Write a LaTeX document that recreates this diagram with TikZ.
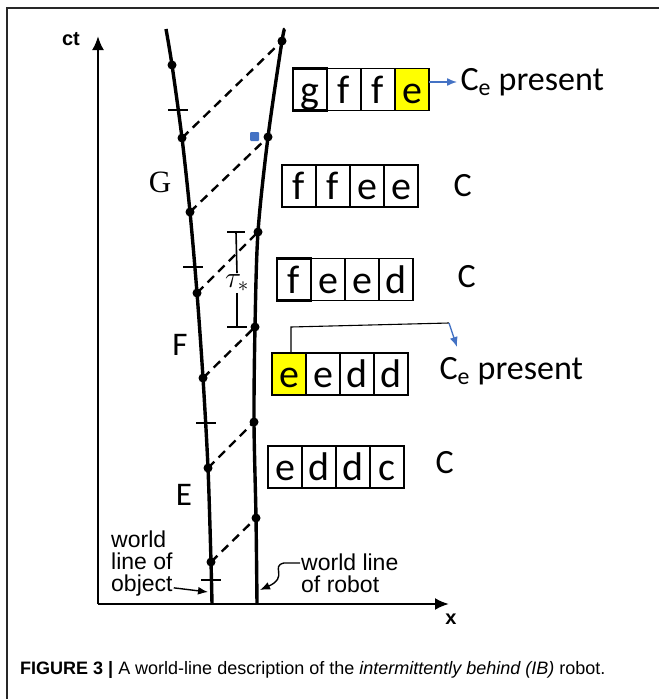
\RequirePackage{fix-cm}
\documentclass[tikz,border=0pt]{standalone}
\usepackage{fontspec}
\setmainfont{Carlito}
\newfontfamily\helv{Liberation Sans}
\newfontfamily\tms{Liberation Serif}
\usetikzlibrary{positioning,arrows.meta}
\definecolor{ibyellow}{RGB}{255,255,0}
\definecolor{ibblue}{RGB}{68,114,196}
\definecolor{ibframe}{RGB}{40,40,40}
\tikzset{
  wline/.style={line width=3.4pt},
  evt/.style={circle,fill=black,inner sep=0pt,minimum size=9pt},
  sig/.style={line width=2.4pt,dash pattern=on 9pt off 6pt},
  cell/.style={draw,line width=1.4pt,outer sep=0pt,inner sep=0pt,minimum width=34pt,minimum height=42pt,text height=27pt,text depth=0pt,font=\fontsize{40}{40}\selectfont},
  firstcell/.style={cell,line width=2.8pt},
  clbl/.style={anchor=west,font=\fontsize{34}{34}\selectfont},
  axlbl/.style={font=\helv\bfseries\fontsize{20}{20}\selectfont},
  wlbl/.style={align=left,inner sep=1pt,font=\helv\fontsize{23}{22}\selectfont},
  pointer/.style={line width=1.4pt,-{Latex[length=10pt,width=8pt]}},
}
\begin{document}
\begin{tikzpicture}[x=1pt,y=-1pt]
\useasboundingbox (0,0) rectangle (659,699);
% frame
\draw[ibframe,line width=1.2pt] (7,699) -- (7,8) -- (659,8); % left and top border
% axes
\coordinate (O) at (98,604);
\coordinate (ctend) at (98,36);
\coordinate (xend) at (449,604);
\draw[line width=2.4pt,-{Latex[length=14pt,width=12pt]}] (O) -- (ctend); % ct axis
\draw[line width=2.4pt,-{Latex[length=14pt,width=12pt]}] (O) -- (xend); % x axis
\node[axlbl] (ctlbl) at (71,39) {ct};
\node[axlbl] (xlbl) at (451,619) {x};
% world line of object
\draw[wline] plot[smooth] coordinates {(166,29) (172,65) (182,138) (190,212) (197,293) (203,378) (208,468) (211,562) (212,604)};
\node[evt] (o1) at (172,65) {};
\node[evt] (o2) at (182,138) {};
\node[evt] (o3) at (190,212) {};
\node[evt] (o4) at (197,293) {};
\node[evt] (o5) at (203,378) {};
\node[evt] (o6) at (208,468) {};
\node[evt] (o7) at (211,562) {};
\draw[line width=2pt] (168,110) -- (188,110); % tick
\draw[line width=2pt] (183,267) -- (203,267); % tick
\draw[line width=2pt] (196,423) -- (216,423); % tick
\draw[line width=2pt] (201,580) -- (221,580); % tick
% world line of robot
\draw[wline] plot[smooth] coordinates {(285,29) (282,41) (268,137) (258,232) (255,327) (254,422) (256,518) (257,604)};
\node[evt] (r1) at (282,41) {};
\node[evt] (r2) at (268,137) {};
\node[evt] (r3) at (258,232) {};
\node[evt] (r4) at (255,327) {};
\node[evt] (r5) at (254,422) {};
\node[evt] (r6) at (256,518) {};
% light signals
\draw[sig] (o2.center) -- (r1.center);
\draw[sig] (o3.center) -- (r2.center);
\draw[sig] (o4.center) -- (r3.center);
\draw[sig] (o5.center) -- (r4.center);
\draw[sig] (o6.center) -- (r5.center);
\draw[sig] (o7.center) -- (r6.center);
\fill[ibblue,rounded corners=1pt] (250,132) rectangle (259,141); % blue mark
% G F E
\node[font=\tms\fontsize{31}{31}\selectfont] (lG) at (160,182) {G};
\node[font=\fontsize{33}{33}\selectfont] (lF) at (180,345) {F};
\node[font=\fontsize{33}{33}\selectfont] (lE) at (184,495) {E};
% tau bracket
\coordinate (tautop) at (236,232);
\coordinate (taubot) at (237,327);
\node[inner sep=1pt,font=\fontsize{30}{30}\selectfont] (tau) at (237,283) {$\tau_{\mathbf{*}}$};
\draw[line width=1.6pt] (tautop) -- (tau.north);
\draw[line width=1.6pt] (tau.south) -- (taubot);
\draw[line width=1.6pt] ([xshift=-9pt]tautop) -- ([xshift=9pt]tautop); % top bar
\draw[line width=1.6pt] ([xshift=-10pt]taubot) -- ([xshift=10pt]taubot); % bottom bar
% buffer g f f e
\node[firstcell] (b1a) at (310,89.5) {g};
\node[cell,right = 0pt of b1a] (b1b) {f};
\node[cell,right = 0pt of b1b] (b1c) {f};
\node[cell,fill=ibyellow,right = 0pt of b1c] (b1d) {e};
\node[clbl] (c1) at (457,82) {C\textsubscript{e} present};
\draw[pointer,ibblue] (b1d.east |- c1.west) -- (c1.west);
% buffer f f e e
\node[firstcell] (b2a) at (299,186) {f};
\node[cell,right = 0pt of b2a] (b2b) {f};
\node[cell,right = 0pt of b2b] (b2c) {e};
\node[cell,right = 0pt of b2c] (b2d) {e};
\node[clbl] (c2) at (450,186) {C};
% buffer f e e d
\node[firstcell] (b3a) at (294,279.5) {f};
\node[cell,right = 0pt of b3a] (b3b) {e};
\node[cell,right = 0pt of b3b] (b3c) {e};
\node[cell,right = 0pt of b3c] (b3d) {d};
\node[clbl] (c3) at (454,277) {C};
% buffer e e d d
\node[firstcell,fill=ibyellow] (b4a) at (289,374) {e};
\node[cell,right = 0pt of b4a] (b4b) {e};
\node[cell,right = 0pt of b4b] (b4c) {d};
\node[cell,right = 0pt of b4c] (b4d) {d};
\node[clbl] (c4) at (436,371) {C\textsubscript{e} present};
\coordinate (kneeL) at (291,327);
\coordinate (kneeR) at (449,323);
\coordinate (c4tip) at (457,347);
\draw[line width=1.1pt] (b4a.north -| kneeL) -- (kneeL) -- (kneeR);
\draw[pointer,ibblue] (kneeR) -- (c4tip);
% buffer e d d c
\node[firstcell] (b5a) at (285,467) {e};
\node[cell,right = 0pt of b5a] (b5b) {d};
\node[cell,right = 0pt of b5b] (b5c) {d};
\node[cell,right = 0pt of b5c] (b5d) {c};
\node[clbl] (c5) at (432,463) {C};
% world line labels
\node[wlbl,anchor=north west] (wlo) at (110,530) {world\\line of\\object};
\coordinate (ofoot) at (208,592);
\draw[pointer] ([yshift=10pt]wlo.south east) -- (ofoot);
\node[wlbl,anchor=west] (wlr) at (300,573) {world line\\of robot};
\coordinate (rfoot) at (260,590);
\draw[pointer] ([yshift=10pt]wlr.west) -- (284,563) .. controls (270,566) and (289,577) .. (rfoot);
% caption
\node[anchor=west,inner sep=0pt,font=\helv\fontsize{18}{18}\selectfont] (cap) at (20,670) {\textbf{FIGURE 3 |} A world-line description of the \textit{intermittently behind (IB)} robot.};
\end{tikzpicture}
\end{document}
